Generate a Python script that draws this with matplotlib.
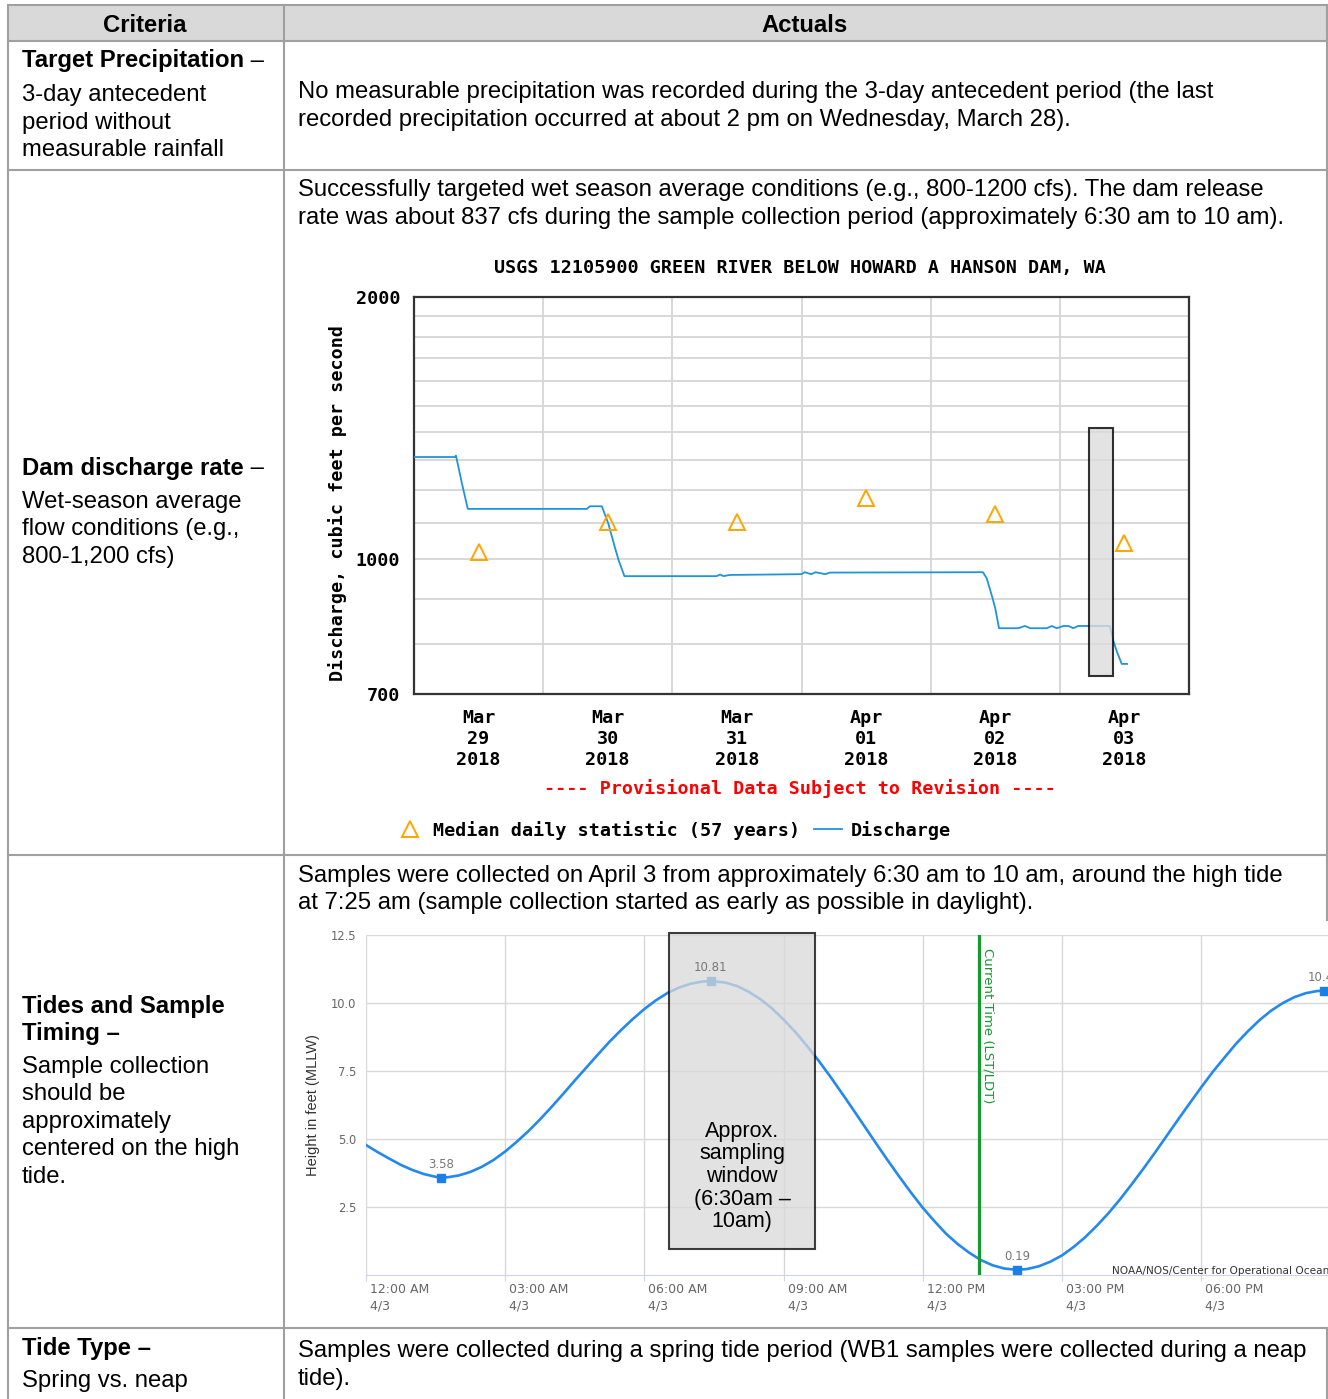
import matplotlib
matplotlib.use("Agg")
import matplotlib.pyplot as plt
from matplotlib.patches import Rectangle
from matplotlib.lines import Line2D

# ---- discharge data (USGS 12105900), hours since Mar 29 00:00 ----
discharge_hours = [0, 7.6, 7.8, 8.9, 10.0, 32.1, 32.7, 34.9, 36.1, 37.3, 38.0, 39.1,
                   56.2, 56.9, 57.5, 58.7, 72.0, 72.6, 73.8, 74.6, 76.4, 77.3,
                   105.7, 106.4, 107.5, 108.0, 108.7, 112.3, 113.5, 114.5, 117.6,
                   118.5, 119.4, 120.7, 121.6, 122.5, 123.4, 129.3, 129.9, 130.6,
                   131.5, 132.5]
discharge_cfs = [1310, 1310, 1315, 1222, 1142, 1142, 1150, 1150, 1099, 1033, 998, 956,
                 956, 960, 956, 959, 961, 966, 961, 966, 961, 965,
                 966, 951, 902, 878, 833, 833, 838, 833, 833,
                 838, 833, 838, 838, 833, 838, 838, 807, 783,
                 758, 758]
median_hours = [12, 36, 60, 84, 108, 132]
median_cfs = [1019, 1103, 1103, 1176, 1126, 1043]
day_labels = ["Mar\n29\n2018", "Mar\n30\n2018", "Mar\n31\n2018",
              "Apr\n01\n2018", "Apr\n02\n2018", "Apr\n03\n2018"]
sample_window_hours = (125.4, 129.9)
sample_window_cfs = (734, 1414)

# ---- tide predictions, April 3 (hours after midnight, feet MLLW) ----
tide_hours = [0, 0.25, 0.5, 0.75, 1.0, 1.25, 1.5, 1.62, 1.75, 2.0, 2.25, 2.5, 2.75,
              3.0, 3.25, 3.5, 3.75, 4.0, 4.25, 4.5, 4.75, 5.0, 5.25, 5.5, 5.75,
              6.0, 6.25, 6.5, 6.75, 7.0, 7.25, 7.43, 7.75, 8.0, 8.25, 8.5, 8.75,
              9.0, 9.25, 9.5, 9.75, 10.0, 10.25, 10.5, 10.75, 11.0, 11.25, 11.5,
              11.75, 12.0, 12.25, 12.5, 12.75, 13.0, 13.25, 13.5, 13.75, 14.03,
              14.25, 14.5, 14.75, 15.0, 15.25, 15.5, 15.75, 16.0, 16.25, 16.5,
              16.75, 17.0, 17.25, 17.5, 17.75, 18.0, 18.25, 18.5, 18.75, 19.0,
              19.25, 19.5, 19.75, 20.0, 20.25, 20.5, 20.65, 21.0]
tide_ft = [4.78, 4.52, 4.28, 4.05, 3.86, 3.71, 3.61, 3.58, 3.59, 3.66, 3.79, 3.98, 4.23,
           4.54, 4.90, 5.29, 5.72, 6.18, 6.66, 7.15, 7.63, 8.11, 8.58, 9.01, 9.41,
           9.78, 10.10, 10.37, 10.57, 10.71, 10.79, 10.81, 10.75, 10.62, 10.41, 10.14, 9.80,
           9.39, 8.94, 8.43, 7.89, 7.31, 6.70, 6.08, 5.45, 4.82, 4.20, 3.60,
           3.02, 2.47, 1.98, 1.52, 1.14, 0.82, 0.55, 0.36, 0.24, 0.19,
           0.22, 0.32, 0.49, 0.72, 1.03, 1.39, 1.81, 2.27, 2.78, 3.33,
           3.90, 4.49, 5.10, 5.71, 6.31, 6.90, 7.47, 7.99, 8.50, 8.95,
           9.36, 9.71, 9.99, 10.21, 10.36, 10.44, 10.45, 10.40]
extreme_hours = [1.62, 7.43, 14.03, 20.65]
extreme_ft = [3.58, 10.81, 0.19, 10.45]
tide_tick_hours = [0, 3, 6, 9, 12, 15, 18]
tide_tick_labels = ["12:00 AM\n4/3", "03:00 AM\n4/3", "06:00 AM\n4/3", "09:00 AM\n4/3",
                    "12:00 PM\n4/3", "03:00 PM\n4/3", "06:00 PM\n4/3"]
current_time_hour = 13.21
window_hours = (6.53, 9.68)
window_ft = (0.96, 12.57)

W, H = 1328, 1399
plt.rcParams["font.family"] = ["Liberation Sans", "DejaVu Sans"]
fig = plt.figure(figsize=(W / 100, H / 100), dpi=100)


def px_axes(x0, y0, x1, y1):
    return fig.add_axes([x0 / W, 1 - y1 / H, (x1 - x0) / W, (y1 - y0) / H])


# ---------------- table ----------------
tab = fig.add_axes([0, 0, 1, 1])
tab.set_xlim(0, W)
tab.set_ylim(H, 0)
tab.axis("off")

GRID = "#a0a0a0"
FS = 17.2
tab.add_patch(Rectangle((8, 5), 1319, 36, fc="#d9d9d9", ec="none"))
for y in [5, 41, 170, 855, 1328]:
    tab.plot([8, 1327], [y, y], color=GRID, lw=1.5)
tab.plot([8, 8], [5, H], color=GRID, lw=1.5)
tab.plot([284, 284], [5, H], color=GRID, lw=1.5)
tab.plot([1327, 1327], [5, 920], color=GRID, lw=1.5)
tab.plot([1327, 1327], [1328, H], color=GRID, lw=1.5)

tab.text(145, 25, "Criteria", fontsize=FS, weight="bold", ha="center", va="center")
tab.text(805, 25, "Actuals", fontsize=FS, weight="bold", ha="center", va="center")


def lines(x, y0, step, rows, **kw):
    for i, row in enumerate(rows):
        tab.text(x, y0 + i * step, row, fontsize=FS, va="center", **kw)


def bold_dash(x, y, label):
    t = tab.text(x, y, label, fontsize=FS, weight="bold", va="center")
    tab.annotate(" \u2013", xy=(1, 0.5), xycoords=t, fontsize=FS, va="center")


bold_dash(22, 61, "Target Precipitation")
lines(22, 95, 27.5, ["3-day antecedent", "period without", "measurable rainfall"])
lines(298, 92, 28, ["No measurable precipitation was recorded during the 3-day antecedent period (the last",
                    "recorded precipitation occurred at about 2 pm on Wednesday, March 28)."])

bold_dash(22, 468, "Dam discharge rate")
lines(22, 502, 27.5, ["Wet-season average", "flow conditions (e.g.,", "800-1,200 cfs)"])
lines(298, 190, 28, ["Successfully targeted wet season average conditions (e.g., 800-1200 cfs). The dam release",
                     "rate was about 837 cfs during the sample collection period (approximately 6:30 am to 10 am)."])

lines(22, 1006, 27.5, ["Tides and Sample", "Timing \u2013"], weight="bold")
lines(22, 1067, 27.5, ["Sample collection", "should be", "approximately",
                       "centered on the high", "tide."])
lines(298, 876, 27.5, ["Samples were collected on April 3 from approximately 6:30 am to 10 am, around the high tide",
                       "at 7:25 am (sample collection started as early as possible in daylight)."])

lines(22, 1348, 27.5, ["Tide Type \u2013"], weight="bold")
lines(22, 1381, 27.5, ["Spring vs. neap"])
lines(298, 1351, 28, ["Samples were collected during a spring tide period (WB1 samples were collected during a neap",
                      "tide)."])

# ---------------- USGS discharge chart ----------------
MONO = dict(family="DejaVu Sans Mono", weight="bold", fontsize=13.2)
ax = px_axes(414, 297, 1189, 694)
ax.set_yscale("log")
ax.plot(discharge_hours, discharge_cfs, color="#2293da", lw=1.3, zorder=3)
ax.plot(median_hours, median_cfs, ls="none", marker="^", ms=11, mfc="none",
        mec="#ffa500", mew=1.4, zorder=4)
ax.add_patch(Rectangle((sample_window_hours[0], sample_window_cfs[0]),
                       sample_window_hours[1] - sample_window_hours[0],
                       sample_window_cfs[1] - sample_window_cfs[0],
                       fc="#dcdcdc", ec="black", lw=1.5, alpha=0.8, zorder=5))
ax.set_xlim(0, 144)
ax.set_ylim(700, 2000)
ax.set_xticks(median_hours, day_labels, **MONO, linespacing=1.2)
ax.set_xticks([24, 48, 72, 96, 120], minor=True)
ax.set_yticks([700, 1000, 2000], ["700", "1000", "2000"], **MONO)
ax.set_yticks([800, 900] + list(range(1100, 2000, 100)), minor=True)
ax.yaxis.set_minor_formatter(plt.NullFormatter())
ax.tick_params(which="both", length=0)
ax.tick_params(axis="x", pad=11)
ax.tick_params(axis="y", pad=10)
ax.grid(which="minor", color="#d6d6d6", lw=1.3)
ax.grid(which="major", axis="y", color="#d6d6d6", lw=1.3)
for s in ax.spines.values():
    s.set_color("#333333")
    s.set_linewidth(1.6)
ax.text(0.498, 1.073, "USGS 12105900 GREEN RIVER BELOW HOWARD A HANSON DAM, WA",
        transform=ax.transAxes, ha="center", va="center", **MONO)
ax.text(-0.099, 0.48, "Discharge, cubic feet per second", rotation=90,
        transform=ax.transAxes, ha="center", va="center", **MONO)
ax.text(0.498, -0.237, "---- Provisional Data Subject to Revision ----", color="#ff0000",
        transform=ax.transAxes, ha="center", va="center", **MONO)
handles = [Line2D([], [], ls="none", marker="^", ms=11, mfc="none", mec="#ffa500", mew=1.4),
           Line2D([], [], color="#2293da", lw=1.3)]
ax.legend(handles, ["Median daily statistic (57 years)", "Discharge"], ncol=2,
          loc="center", bbox_to_anchor=(0.335, -0.3426), frameon=False,
          prop=dict(family="DejaVu Sans Mono", weight="bold", size=13.2),
          handlelength=1.5, handletextpad=0.5, columnspacing=0.75)

# ---------------- NOAA tide chart ----------------
tx = px_axes(366, 935, 366 + 24 * 46.4, 1275)
tx.plot(tide_hours, tide_ft, color="#2389ee", lw=1.9, zorder=3)
tx.plot(extreme_hours, extreme_ft, ls="none", marker="s", ms=5.5, color="#1a7fe8", zorder=4)
for h, v in zip(extreme_hours, extreme_ft):
    tx.annotate(f"{v:.2f}", (h, v), xytext=(0, 5), textcoords="offset points",
                ha="center", va="bottom", family="DejaVu Sans", fontsize=8.5,
                color="#777777", zorder=6)
tx.axvline(current_time_hour, color="#159a2e", lw=2.3, zorder=4)
tx.text(current_time_hour + 0.2, 12.02, "Current Time (LST/LDT)", rotation=-90,
        ha="center", va="top", color="#159a2e", family="DejaVu Sans", fontsize=9.5)
tx.add_patch(Rectangle((window_hours[0], window_ft[0]), window_hours[1] - window_hours[0],
                       window_ft[1] - window_ft[0], fc="#d9d9d9", ec="black", lw=1.5,
                       alpha=0.75, zorder=5, clip_on=False))
tx.text(sum(window_hours) / 2, 3.62, "Approx.\nsampling\nwindow\n(6:30am \u2013\n10am)",
        ha="center", va="center", fontsize=15.5, linespacing=1.1, zorder=6)
tx.text(16.08, 0.15, "NOAA/NOS/Center for Operational Oceanographic Products and Services",
        ha="left", va="center", family="DejaVu Sans", fontsize=7.6, color="#333333")
tx.set_xlim(0, 24)
tx.set_ylim(0, 12.5)
tx.set_xticks(tide_tick_hours, [" " + s.replace("\n", "\n ") for s in tide_tick_labels],
              family="DejaVu Sans", fontsize=9, color="#666666", linespacing=1.3, ha="left")
tx.set_yticks([2.5, 5, 7.5, 10, 12.5], ["2.5", "5.0", "7.5", "10.0", "12.5"],
              family="DejaVu Sans", fontsize=8.3, color="#666666")
tx.tick_params(axis="x", length=4, color="#ccd6eb", pad=2)
tx.tick_params(axis="y", length=0, pad=7)
tx.grid(color="#d8d8d8", lw=1)
for side in ["top", "right", "left"]:
    tx.spines[side].set_visible(False)
tx.spines["bottom"].set_color("#ccd6eb")
tx.text(-0.0476, 0.5, "Height in feet (MLLW)", rotation=90, transform=tx.transAxes,
        ha="center", va="center", fontsize=10.5, color="#333333")

fig.savefig("out.png", dpi=100)
